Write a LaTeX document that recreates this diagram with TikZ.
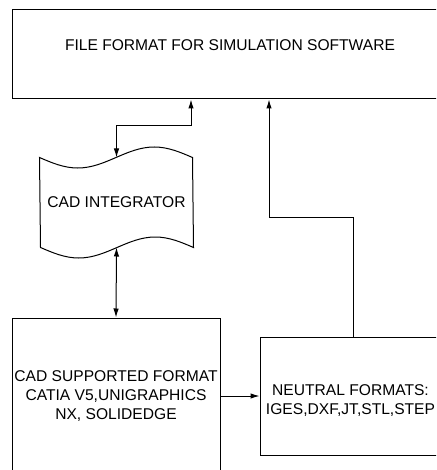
\documentclass[tikz,border=0pt]{standalone}
\usepackage{fontspec}
\setmainfont{Liberation Sans}
\usepackage{tikz}
\usetikzlibrary{arrows.meta,calc}

\tikzstyle{block}=[draw,line width=1pt,fill=white,align=center,inner sep=0pt]
\tikzstyle{wave}=[align=center,inner sep=0pt,minimum width=153pt,minimum height=89pt]

\begin{document}
\begin{tikzpicture}[x=1pt,y=-1pt,line width=1pt,>={Latex[length=9pt,width=5.5pt]},
    font=\fontsize{15.6}{19}\selectfont]
    \useasboundingbox (0,0) rectangle (436,470);
    \clip (0,0) rectangle (436,470);

          \node[block,minimum width=436pt,minimum height=89pt] (simfmt) at (230,54.5)
               {FILE FORMAT FOR SIMULATION SOFTWARE\\ \mbox{}};
          \node[wave] (cadint) at (116.5,202.5) {CAD INTEGRATOR};
          \node[block,minimum width=208pt,minimum height=156pt] (cadfmt) at (116,396)
               {CAD SUPPORTED FORMAT\\CATIA V5,UNIGRAPHICS\\NX, SOLIDEDGE};
          \node[block,minimum width=181pt,minimum height=118pt] (neutral) at (350.5,396)
               {\mbox{}\\NEUTRAL FORMATS:\\IGES,DXF,JT,STL,STEP};

          % wavy outline of the integrator
          \draw (cadint.north west) sin ++(38.25,10.5) cos ++(38.25,-10.5)
                sin ++(38.25,-10.5) cos ++(38.25,10.5) -- (cadint.south east)
                sin ++(-38.25,-10.5) cos ++(-38.25,10.5)
                sin ++(-38.25,10.5) cos ++(-38.25,-10.5) -- cycle;

          \draw[<->] (cadint.north) -- ++(0,-32) -| ([xshift=-39pt]simfmt.south);
          \draw[<->] (cadint.south) -- (cadfmt.north);
          \draw[->] (cadfmt.east) -- (neutral.west);
          \draw[->] ([xshift=2.5pt]neutral.north) -- ++(0,-119) -| ([xshift=39pt]simfmt.south);
        \end{tikzpicture}
\end{document}
